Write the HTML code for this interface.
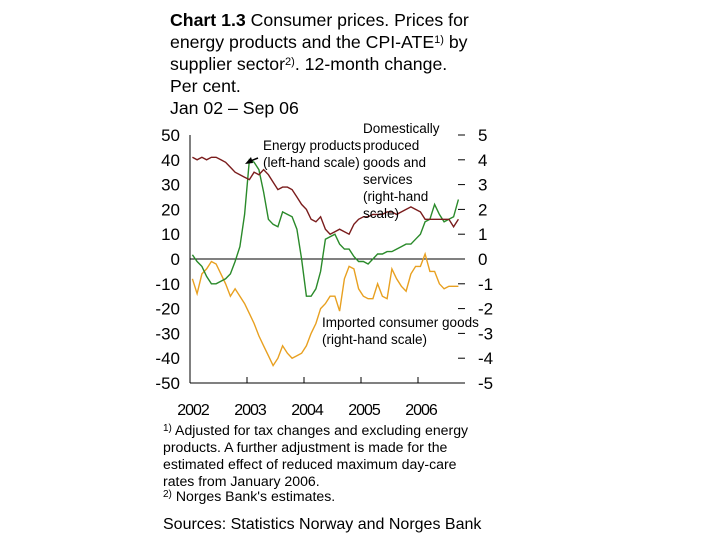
<!DOCTYPE html>
<html><head><meta charset="utf-8"><style>
body{margin:0;background:#fff;}
svg{font-family:"Liberation Sans",Arial,sans-serif;}
</style></head><body>
<svg width="720" height="540" viewBox="0 0 720 540">
<g font-size="17.7" fill="#000">
<text x="170" y="26"><tspan font-weight="bold">Chart 1.3</tspan> Consumer prices. Prices for</text>
<text x="170" y="48">energy products and the CPI-ATE<tspan font-size="11" dy="-5">1)</tspan><tspan dy="5"> by</tspan></text>
<text x="170" y="70">supplier sector<tspan font-size="11" dy="-5">2)</tspan><tspan dy="5">. 12-month change.</tspan></text>
<text x="170" y="92">Per cent.</text>
<text x="170" y="114">Jan 02 – Sep 06</text>
</g>
<g id="axes"></g>
<g id="series"></g>
<g font-size="13.5" fill="#000">
<text x="263" y="150">Energy products</text>
<text x="263" y="167">(left-hand scale)</text>
<text x="363" y="133">Domestically</text>
<text x="363" y="150">produced</text>
<text x="363" y="167">goods and</text>
<text x="363" y="184">services</text>
<text x="363" y="201">(right-hand</text>
<text x="363" y="218">scale)</text>
<text x="322" y="327">Imported consumer goods</text>
<text x="322" y="344">(right-hand scale)</text>
</g>
<path d="M258,158 L248,162" stroke="#000" stroke-width="1.5"/>
<polygon points="245,164 251,157 253,163" fill="#000"/>
<g font-size="14.1" fill="#000">
<text x="163" y="435"><tspan font-size="10" dy="-4">1)</tspan><tspan dy="4"> Adjusted for tax changes and excluding energy</tspan></text>
<text x="163" y="452">products. A further adjustment is made for the</text>
<text x="163" y="469">estimated effect of reduced maximum day-care</text>
<text x="163" y="486">rates from January 2006.</text>
<text x="163" y="501"><tspan font-size="10" dy="-4">2)</tspan><tspan dy="4"> Norges Bank's estimates.</tspan></text>
</g>
<text x="163" y="529" font-size="16">Sources: Statistics Norway and Norges Bank</text>
</svg>
<script>
const years = ["2002","2003","2004","2005","2006"];
const leftTicks = [50,40,30,20,10,0,-10,-20,-30,-40,-50];
const rightTicks = [5,4,3,2,1,0,-1,-2,-3,-4,-5];
const energy = [1.7,-1,-3,-7,-10,-10,-9,-8,-6,-1, 5,18,40,39,36,27,16,14,13,19, 18,17,12,0,-15,-15,-12,-5,8,9, 10,6,4,4,1,-1,-1,-2,0,2, 2,3,3,4,5,6,6,8,10,15, 16,22,18,15,16,17,24];
const domestic = [4.1,4.0,4.1,4.0,4.1,4.1,4.0,3.9,3.7,3.5, 3.4,3.3,3.2,3.5,3.4,3.6,3.4,3.1,2.8,2.9, 2.9,2.8,2.5,2.2,2.0,1.6,1.5,1.7,1.2,1.0, 1.1,1.2,1.1,1.0,1.4,1.6,1.7,1.7,1.8,1.8, 1.8,1.9,1.9,1.8,1.9,2.0,2.1,2.0,1.9,1.6, 1.6,1.6,1.6,1.6,1.6,1.3,1.6];
const imported = [-0.8,-1.4,-0.6,-0.4,-0.1,-0.2,-0.6,-1.0,-1.5,-1.2, -1.5,-1.8,-2.2,-2.6,-3.1,-3.5,-3.9,-4.3,-4.0,-3.5, -3.8,-4.0,-3.9,-3.8,-3.5,-3.0,-2.6,-2.0,-1.8,-1.5, -1.5,-2.1,-0.8,-0.3,-0.4,-1.2,-1.5,-1.6,-1.6,-1.0, -1.5,-1.6,-0.4,-0.8,-1.1,-1.3,-0.6,-0.3,-0.3,0.2, -0.5,-0.5,-1.0,-1.2,-1.1,-1.1,-1.1];

const NS="http://www.w3.org/2000/svg";
const X0=190, X1=465, Y0=135, Y1=383, yearW=57;
const xm = m => X0 + yearW/12*(m+0.5);
const yL = v => Y0 + (50 - v)/100*(Y1-Y0);
const yR = v => yL(v*10);
function mk(tag, attrs, parent){const e=document.createElementNS(NS,tag);for(const k in attrs)e.setAttribute(k,attrs[k]);parent.appendChild(e);return e;}
const ax=document.getElementById('axes'), se=document.getElementById('series');

let e=mk('line',{x1:X0,y1:Y0,x2:X0,y2:Y1,stroke:'#000'},ax);


e=mk('line',{x1:X0,y1:Y1,x2:X1,y2:Y1,stroke:'#000'},ax);


e=mk('line',{x1:X0,y1:yL(0),x2:X1,y2:yL(0),stroke:'#000'},ax);


leftTicks.forEach(v=>{
  const t=mk('text',{x:180,y:yL(v)+6,'text-anchor':'end','font-size':17},ax);t.textContent=v;
  
  
});
rightTicks.forEach(v=>{
  const l=mk('line',{x1:X1-7,y1:yR(v),x2:X1,y2:yR(v),stroke:'#000'},ax);
  
  
  const t=mk('text',{x:478,y:yR(v)+6,'font-size':17},ax);t.textContent=v;
  
  
});
years.forEach((y,i)=>{
  const x=X0+i*yearW;
  if(i>0){const l=mk('line',{x1:x,y1:Y1-6,x2:x,y2:Y1,stroke:'#000'},ax);
  
  }
  const t=mk('text',{x:x+3,y:415,'text-anchor':'middle','font-size':16,'letter-spacing':'-1'},ax);t.textContent=y;
  
  
});
function line(arr, yf, color, name){
  const d=arr.map((v,i)=>(i?'L':'M')+xm(i).toFixed(1)+','+yf(v).toFixed(1)).join(' ');
  const p=mk('path',{d:d,fill:'none',stroke:color,'stroke-width':1.4},se);
  
  
}
line(imported,yR,'#e8a020','imported-goods-line');
line(energy,yL,'#2a8a2a','energy-products-line');
line(domestic,yR,'#7a1c1c','domestic-goods-line');
</script>
</body></html>
